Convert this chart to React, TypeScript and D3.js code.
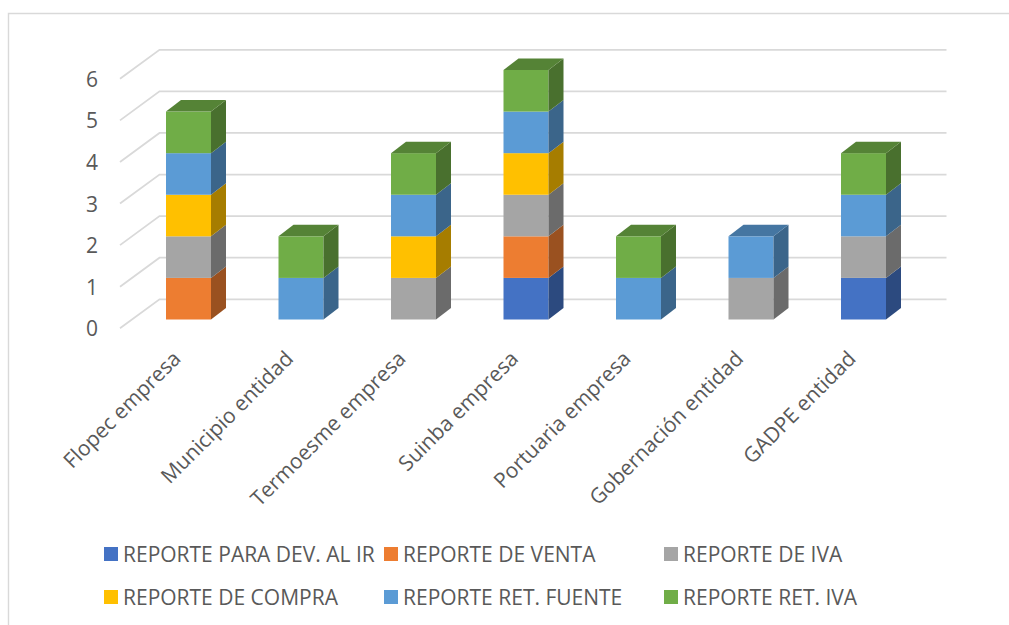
import React from "react";
import * as d3 from "d3";

const categories = ["Flopec empresa","Municipio entidad","Termoesme empresa","Suinba empresa","Portuaria empresa","Gobernación entidad","GADPE entidad"];
const seriesNames = ["REPORTE PARA DEV. AL IR","REPORTE DE VENTA","REPORTE DE IVA","REPORTE DE COMPRA","REPORTE RET. FUENTE","REPORTE RET. IVA"];
const seriesColors = ["#4472c4","#ed7d31","#a5a5a5","#ffc000","#5b9bd5","#70ad47"];
const devIr = [0,0,0,1,0,0,1];
const venta = [1,0,0,1,0,0,0];
const iva = [1,0,1,1,0,1,1];
const compra = [1,0,1,1,0,0,0];
const retFuente = [1,1,1,1,1,1,1];
const retIva = [1,1,1,1,1,0,1];
const seriesValues = [devIr,venta,iva,compra,retFuente,retIva];
const ticks = [0,1,2,3,4,5,6];

const FONT = "'Open Sans', sans-serif";
const TEXT = "#595959";

const shade = (hex: string, f: number) => {
  const c = d3.rgb(hex);
  return d3.rgb(c.r * f, c.g * f, c.b * f).formatHex();
};

export default function App() {
  const y = d3.scaleLinear().domain([0,6]).range([319.5,70]);
  const step = 112.5;
  const xAt = (i: number) => 166 + i * step;
  const w = 45, dx = 15, dy = 11.5;
  const rows = categories.map((c, i) => {
    let acc = 0;
    const segs = seriesValues.map((s, k) => {
      const seg = { k, y0: acc, y1: acc + s[i] };
      acc += s[i];
      return seg;
    }).filter(s => s.y1 > s.y0);
    return { c, i, segs };
  });
  const legendCols = [104, 384, 664];
  const legendRows = [555, 598];
  return (
    <svg width={1009} height={625} style={{ position: "absolute", left: 0, top: 0 }}>
      <rect width={1009} height={625} fill="#fff" />
      <path d="M1009 13.5H8.5V625" fill="none" stroke="#d9d9d9" strokeWidth={1.4} />
      {ticks.map(t => {
        const yy = y(t) + 8.8;
        return (
          <g key={t}>
            <polyline points={`120,${yy} 159.5,${yy - 29} 946.5,${yy - 29}`} fill="none" stroke="#d9d9d9" strokeWidth={1.8} />
            <text x={92} y={yy + 8} textAnchor="middle" fontFamily={FONT} fontSize={21} fill={TEXT}>{t}</text>
          </g>
        );
      })}
      {rows.map(({ c, i, segs }) => {
        const x0 = xAt(i), x1 = x0 + w;
        const last = segs[segs.length - 1];
        const yt = y(last.y1);
        return (
          <g key={c}>
            {segs.map(s => (
              <g key={s.k}>
                <rect x={x0} y={y(s.y1)} width={w} height={y(s.y0) - y(s.y1)} fill={seriesColors[s.k]} />
                <polygon
                  points={`${x1},${y(s.y0)} ${x1 + dx},${y(s.y0) - dy} ${x1 + dx},${y(s.y1) - dy} ${x1},${y(s.y1)}`}
                  fill={shade(seriesColors[s.k], 0.65)}
                />
              </g>
            ))}
            <polygon points={`${x0},${yt} ${x0 + dx},${yt - dy} ${x1 + dx},${yt - dy} ${x1},${yt}`} fill={shade(seriesColors[last.k], 0.76)} />
            <text transform={`translate(${x1 - 33},${356}) rotate(-45)`} textAnchor="end" dominantBaseline="middle" fontFamily={FONT} fontSize={21} fill={TEXT}>{c}</text>
          </g>
        );
      })}
      {seriesNames.map((n, k) => {
        const lx = legendCols[k % 3], ly = legendRows[Math.floor(k / 3)];
        return (
          <g key={n}>
            <rect x={lx} y={ly - 8} width={14} height={14} fill={seriesColors[k]} />
            <text x={lx + 19} y={ly + 7} fontFamily={FONT} fontSize={21} fill={TEXT}>{n}</text>
          </g>
        );
      })}
    </svg>
  );
}
